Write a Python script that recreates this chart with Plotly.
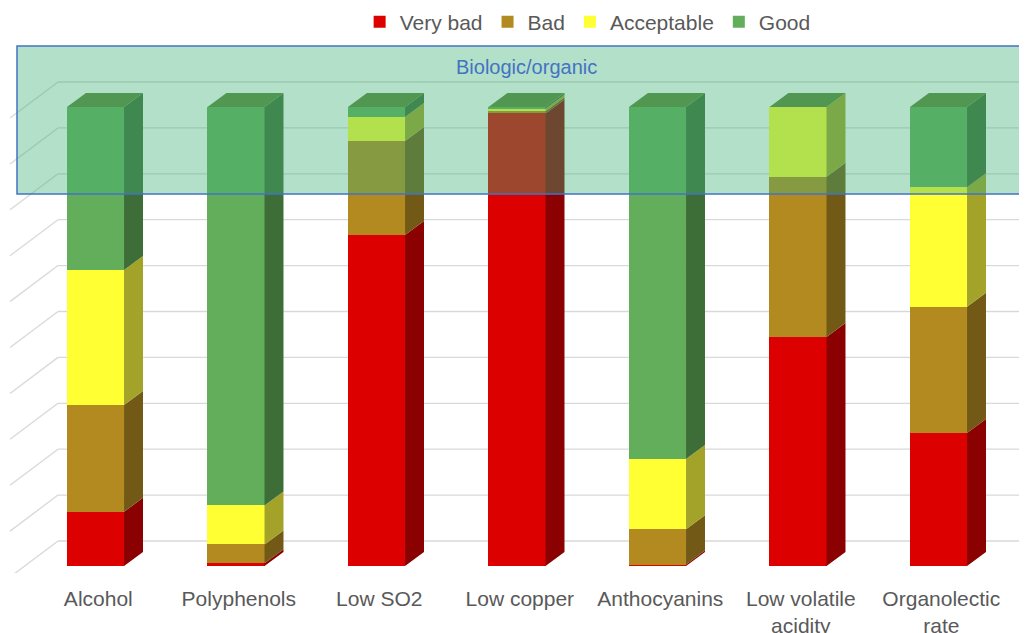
import plotly.graph_objects as go

categories = ["Alcohol", "Polyphenols", "Low SO2", "Low copper", "Anthocyanins",
              "Low volatile<br>acidity", "Organolectic<br>rate"]
series_names = ["Very bad", "Bad", "Acceptable", "Good"]
very_bad = [11.8, 0.6, 72.1, 98.6, 0.3, 49.9, 29.0]
bad = [23.3, 4.1, 20.5, 0.5, 7.7, 34.9, 27.5]
acceptable = [29.4, 8.5, 5.2, 0.5, 15.3, 15.2, 26.0]
good = [35.5, 86.8, 2.2, 0.4, 76.7, 0.0, 17.5]
grid_ticks = [0, 10, 20, 30, 40, 50, 60, 70, 80, 90, 100]

front_colors = ["#DD0000", "#B38A1F", "#FFFF33", "#63AE5B"]
side_colors = ["#8B0000", "#725A16", "#A3A32A", "#3E6E38"]
top_color = "rgb(92,132,58)"

series = [very_bad, bad, acceptable, good]
xpos = list(range(len(categories)))
bar_w = 0.406
dx = 0.135   # 3D depth (x)
dy = 3.05    # 3D depth (y)

fig = go.Figure()

# front faces
for name, vals, col in zip(series_names, series, front_colors):
    fig.add_trace(go.Bar(x=xpos, y=vals, name=name, width=bar_w,
                         marker=dict(color=col, line=dict(width=0)),
                         hoverinfo="skip"))

# side faces
base = [0.0] * len(categories)
for name, vals, col in zip(series_names, series, side_colors):
    xs, ys = [], []
    for i, v in enumerate(vals):
        b = base[i]
        t = b + v
        xr = i + bar_w / 2
        xs += [xr, xr + dx, xr + dx, xr, xr, None]
        ys += [b, b + dy, t + dy, t, b, None]
        base[i] = t
    fig.add_trace(go.Scatter(x=xs, y=ys, mode="lines", fill="toself",
                             fillcolor=col, line=dict(width=0, color=col),
                             showlegend=False, hoverinfo="skip"))

# top faces
xs, ys = [], []
for i in xpos:
    T = base[i]
    xl, xr = i - bar_w / 2, i + bar_w / 2
    xs += [xl, xl + dx, xr + dx, xr, xl, None]
    ys += [T, T + dy, T + dy, T, T, None]
fig.add_trace(go.Scatter(x=xs, y=ys, mode="lines", fill="toself",
                         fillcolor=top_color, line=dict(width=0, color=top_color),
                         showlegend=False, hoverinfo="skip"))

# 3D gridlines (side wall diagonals + back wall horizontals), below traces
x_left, x_wall, x_right = -0.6086, -0.2669, 6.8
back_off = 5.45
diag_drop = 7.85
shapes = []
for g in grid_ticks:
    yb = g + back_off
    shapes.append(dict(type="line", xref="x", yref="y", x0=x_left, y0=yb - diag_drop,
                       x1=x_wall, y1=yb, line=dict(color="#D9D9D9", width=1.3), layer="below"))
    shapes.append(dict(type="line", xref="x", yref="y", x0=x_wall, y0=yb,
                       x1=x_right, y1=yb, line=dict(color="#D9D9D9", width=1.3), layer="below"))

# translucent organic band
shapes.append(dict(type="rect", xref="paper", yref="paper", x0=0.00876, x1=1.02,
                   y0=0.7111, y1=0.9887, fillcolor="rgba(65,178,118,0.4)",
                   line=dict(color="#4472C4", width=1.5), layer="above"))

fig.update_layout(
    width=1027, height=633,
    margin=dict(l=0, r=0, t=32, b=68, autoexpand=False),
    barmode="stack",
    plot_bgcolor="white", paper_bgcolor="white",
    font=dict(family="Arial, Liberation Sans, sans-serif", color="#595959", size=21),
    shapes=shapes,
    showlegend=True,
    legend=dict(orientation="h", x=0.5644, xanchor="center", y=1.0337, yanchor="middle",
                traceorder="normal", font=dict(size=21, color="#595959"),
                bgcolor="rgba(0,0,0,0)"),
    annotations=[dict(text="Biologic/organic", xref="paper", yref="paper",
                      x=0.5049, y=0.9493, xanchor="center", yanchor="middle",
                      showarrow=False, font=dict(size=20, color="#4472C4"))],
    xaxis=dict(range=[-0.6228, 6.6868], tickvals=[p + 0.02 for p in xpos],
               ticktext=categories, showgrid=False, zeroline=False, showline=False,
               ticks="", ticklabelstandoff=11, automargin=False,
               tickfont=dict(size=21, color="#595959")),
    yaxis=dict(range=[-1.525, 114.6], showgrid=False, zeroline=False,
               showticklabels=False, ticks="", showline=False, automargin=False),
)

fig.write_html("out.html")
